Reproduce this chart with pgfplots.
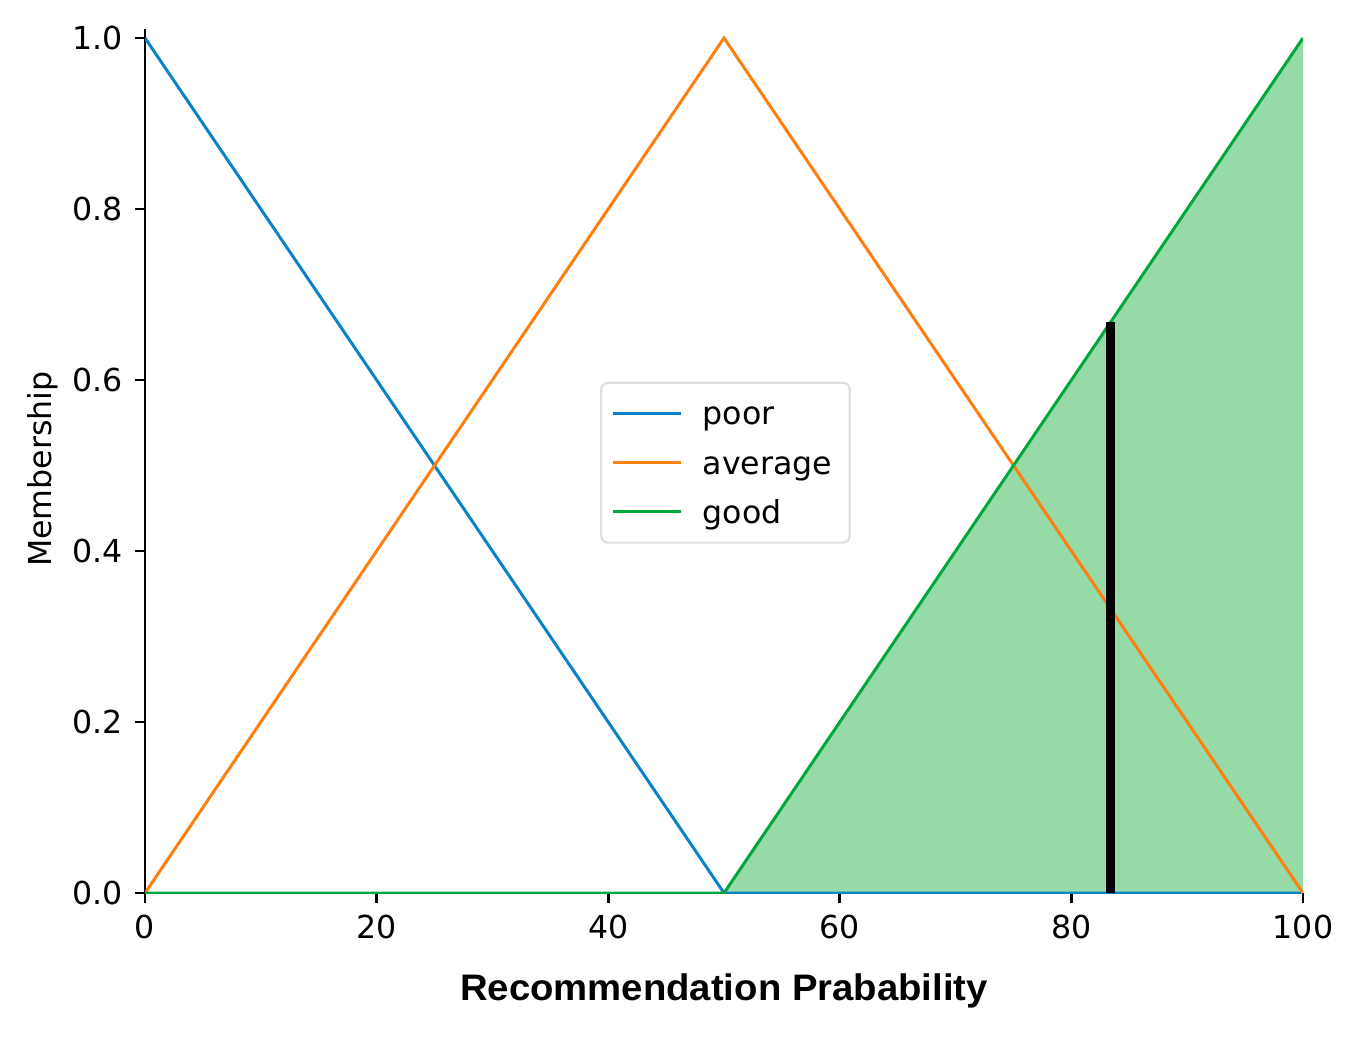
\documentclass[border=0pt]{standalone}
\usepackage{fontspec}
\setmainfont{DejaVu Sans}
\newfontfamily\labelfont{Liberation Sans}
\usepackage{graphicx}
\usepackage{pgfplots}
\pgfplotsset{compat=1.18}
\definecolor{mplblue}{RGB}{10,130,200}
\definecolor{mplorange}{RGB}{255,127,14}
\definecolor{mplgreen}{RGB}{0,168,60}
\definecolor{fillgreen}{RGB}{150,218,168}
\begin{document}
\begin{tikzpicture}
\begin{axis}[
  at={(0,0)}, anchor=south west,
  scale only axis,
  width=11.58cm, height=8.6355cm,
  xmin=0, xmax=100, ymin=0, ymax=1.01,
  axis lines=left,
  axis line style={-, line width=0.8pt, black},
  xtick={0,20,40,60,80,100},
  ytick={0,0.2,0.4,0.6,0.8,1.0},
  tick align=outside,
  major tick length=0.1cm,
  tick style={line width=0.8pt, black},
  font=\fontsize{9}{11}\selectfont,
  /pgf/number format/assume math mode=true,
  yticklabel style={/pgf/number format/fixed, /pgf/number format/fixed zerofill, /pgf/number format/precision=1},
  xticklabel style={/pgf/number format/fixed},
  xlabel={\labelfont\fontsize{10}{12}\selectfont\scalebox{1.09}[1.05]{\bfseries Recommendation Prabability}},
  xlabel style={yshift=-0.1cm},
  ylabel={Membership},
  ylabel style={yshift=-0.1cm, xshift=-0.08cm},
  legend style={
    at={(axis cs:39.3,0.598)}, anchor=north west,
    draw=black!13, rounded corners=2pt, line width=0.6pt,
    font=\fontsize{9}{11}\selectfont,
    inner xsep=3pt, inner ysep=2.5pt,
    row sep=1.5pt,
    cells={anchor=west},
    nodes={text height=7.5pt, text depth=1pt},
  },
  legend image code/.code={\draw[#1] (0cm,0cm) -- (0.68cm,0cm); \path (0.81cm,0cm);},
  legend cell align=left,
]
\addplot[fill=fillgreen, draw=none, forget plot] coordinates {(50,0) (100,1) (100,0)} -- cycle;
\addplot[mplblue, line width=0.85pt] coordinates {(0,1) (50,0) (100,0)};
\addlegendentry{poor}
\addplot[mplorange, line width=0.85pt] coordinates {(0,0) (50,1) (100,0)};
\addlegendentry{average}
\addplot[mplgreen, line width=0.85pt] coordinates {(0,0) (50,0) (100,1)};
\addlegendentry{good}
\addplot[black, line width=2.5pt, forget plot] coordinates {(83.4,0) (83.4,0.668)};
\end{axis}
\pgfresetboundingbox
\path[use as bounding box] (-1.45,-1.43) rectangle (12.07,8.93);
\end{tikzpicture}
\end{document}
